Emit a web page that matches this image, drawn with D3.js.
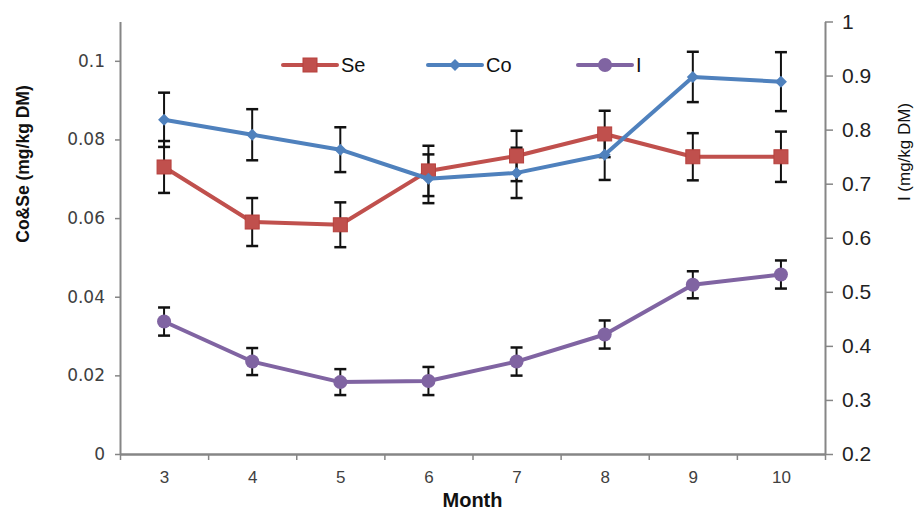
<!DOCTYPE html>
<html>
<head>
<meta charset="utf-8">
<script src="https://cdn.jsdelivr.net/npm/d3@7"></script>
<style>
  body { margin: 0; background: #fff; }
</style>
</head>
<body>
<div id="chart"></div>
<script>
// Data
const months = [3, 4, 5, 6, 7, 8, 9, 10];
const seValues = [0.0730, 0.0590, 0.0583, 0.0720, 0.0758, 0.0814, 0.0756, 0.0756];
const seErrors = [0.0066, 0.0061, 0.0057, 0.0064, 0.0064, 0.0059, 0.0060, 0.0064];
const coValues = [0.0850, 0.0812, 0.0774, 0.0700, 0.0715, 0.0761, 0.0959, 0.0947];
const coErrors = [0.0069, 0.0065, 0.0057, 0.0062, 0.0064, 0.0064, 0.0064, 0.0075];
const iValues = [0.445, 0.371, 0.333, 0.335, 0.371, 0.421, 0.513, 0.532];
const iErrors = [0.026, 0.025, 0.024, 0.026, 0.026, 0.026, 0.025, 0.026];
const leftTicks = [0, 0.02, 0.04, 0.06, 0.08, 0.1];
const rightTicks = [0.2, 0.3, 0.4, 0.5, 0.6, 0.7, 0.8, 0.9, 1];

const width = 917, height = 511;
const margin = { top: 21.5, right: 92, bottom: 57, left: 120 };
const innerW = width - margin.left - margin.right;
const innerH = height - margin.top - margin.bottom;

const svg = d3.select("#chart")
  .append("svg")
  .attr("width", width)
  .attr("height", height);

const g = svg.append("g")
  .attr("transform", `translate(${margin.left},${margin.top})`);

// Scales
let x = d3.scaleLinear()
  .domain([2.5, 10.5])
  .range([0, innerW]);

let yLeft = d3.scaleLinear()
  .domain([0, 0.11])
  .range([innerH, 0]);

let yRight = d3.scaleLinear()
  .domain([0.2, 1])
  .range([innerH, 0]);

const axisColor = "#868686";

// X axis: boundary ticks
let xTicks = g.append("g")
  .attr("transform", `translate(0,${innerH})`)
  .call(d3.axisBottom(x)
    .tickValues(d3.range(2.5, 11, 1))
    .tickSize(6)
    .tickSizeOuter(0)
    .tickFormat(""));
xTicks.select(".domain").attr("stroke", axisColor).attr("stroke-width", 2.5);
xTicks.selectAll(".tick line").attr("stroke", axisColor).attr("stroke-width", 1.5);

// X axis labels
let xLabels = g.append("g")
  .attr("transform", `translate(0,${innerH})`)
  .call(d3.axisBottom(x).tickValues(months).tickSize(0).tickPadding(17));
xLabels.select(".domain").remove();
xLabels.selectAll("text")
  .style("font-family", "Liberation Sans, Arial, sans-serif")
  .style("font-size", "17px")
  .attr("fill", "#404040");

// Left axis
let leftAxis = g.append("g")
  .call(d3.axisLeft(yLeft)
    .tickValues(leftTicks)
    .tickSize(5)
    .tickSizeOuter(0)
    .tickPadding(10)
    .tickFormat(d => d === 0 ? "0" : String(+d.toFixed(2))));
leftAxis.select(".domain").attr("stroke", axisColor).attr("stroke-width", 2);
leftAxis.selectAll(".tick line").attr("stroke", axisColor).attr("stroke-width", 1.5);
leftAxis.selectAll("text")
  .style("font-family", "DejaVu Sans, Verdana, sans-serif")
  .style("font-size", "17px")
  .attr("fill", "#404040");

// Right axis
let rightAxis = g.append("g")
  .attr("transform", `translate(${innerW},0)`)
  .call(d3.axisRight(yRight)
    .tickValues(rightTicks)
    .tickSize(8)
    .tickSizeOuter(0)
    .tickPadding(9)
    .tickFormat(d => d === 1 ? "1" : d.toFixed(1)));
rightAxis.select(".domain").attr("stroke", axisColor).attr("stroke-width", 2);
rightAxis.selectAll(".tick line").attr("stroke", axisColor).attr("stroke-width", 1.5);
rightAxis.selectAll("text")
  .style("font-family", "Liberation Sans, Arial, sans-serif")
  .style("font-size", "21px")
  .attr("fill", "#222");

// Series definitions
const series = [
  { name: "Se", values: seValues, errors: seErrors, y: yLeft, color: "#C0504D", shape: "square" },
  { name: "Co", values: coValues, errors: coErrors, y: yLeft, color: "#4F81BD", shape: "diamond" },
  { name: "I", values: iValues, errors: iErrors, y: yRight, color: "#8064A2", shape: "circle" }
];

function drawMarker(sel, shape, color) {
  if (shape === "square") {
    sel.append("rect")
      .attr("x", -7).attr("y", -7)
      .attr("width", 14).attr("height", 14)
      .attr("fill", color)
      .attr("stroke", "#B7403D").attr("stroke-width", 1);
  } else if (shape === "diamond") {
    sel.append("path")
      .attr("d", "M0,-6L6,0L0,6L-6,0Z")
      .attr("fill", color);
  } else {
    sel.append("circle")
      .attr("r", 7)
      .attr("fill", color);
  }
}

// Error bars first (drawn under lines)
series.forEach(s => {
  let eg = g.append("g").attr("class", "err-" + s.name);
  months.forEach((m, i) => {
    let cx = x(m);
    let y1 = s.y(s.values[i] + s.errors[i]);
    let y2 = s.y(s.values[i] - s.errors[i]);
    eg.append("line")
      .attr("x1", cx).attr("x2", cx)
      .attr("y1", y1).attr("y2", y2)
      .attr("stroke", "#111").attr("stroke-width", 2);
    [y1, y2].forEach(yy => {
      eg.append("line")
        .attr("x1", cx - 6).attr("x2", cx + 6)
        .attr("y1", yy).attr("y2", yy)
        .attr("stroke", "#111").attr("stroke-width", 2.5);
    });
  });
});

// Lines and markers
series.forEach(s => {
  let line = d3.line()
    .x((d, i) => x(months[i]))
    .y(d => s.y(d));

  g.append("path")
    .datum(s.values)
    .attr("fill", "none")
    .attr("stroke", s.color)
    .attr("stroke-width", 4)
    .attr("stroke-linejoin", "round")
    .attr("d", line);

  g.selectAll(".mk-" + s.name)
    .data(s.values)
    .enter()
    .append("g")
    .attr("class", "mk-" + s.name)
    .attr("transform", (d, i) => `translate(${x(months[i])},${s.y(d)})`)
    .each(function() { drawMarker(d3.select(this), s.shape, s.color); });
});

// Legend
const legendItems = [
  { s: series[0], x: 283 },
  { s: series[1], x: 428 },
  { s: series[2], x: 578 }
];
let legend = svg.append("g").attr("transform", "translate(0,65)");
legendItems.forEach(item => {
  let lg = legend.append("g").attr("transform", `translate(${item.x},0)`);
  lg.append("line")
    .attr("x1", 0).attr("x2", 54)
    .attr("stroke", item.s.color)
    .attr("stroke-width", 4)
    .attr("stroke-linecap", "round");
  let mk = lg.append("g").attr("transform", "translate(27,0)");
  drawMarker(mk, item.s.shape, item.s.color);
  lg.append("text")
    .attr("x", 58)
    .attr("y", 7)
    .style("font-family", "Liberation Sans, Arial, sans-serif")
    .style("font-size", "20px")
    .attr("fill", "#111")
    .text(item.s.name);
});

// Axis titles
svg.append("text")
  .attr("x", margin.left + innerW / 2)
  .attr("y", 507)
  .attr("text-anchor", "middle")
  .style("font-family", "Liberation Sans, Arial, sans-serif")
  .style("font-size", "20px")
  .style("font-weight", "bold")
  .attr("fill", "#111")
  .text("Month");

svg.append("text")
  .attr("transform", "translate(29,164) rotate(-90)")
  .attr("text-anchor", "middle")
  .style("font-family", "Liberation Sans, Arial, sans-serif")
  .style("font-size", "17.5px")
  .style("font-weight", "bold")
  .attr("fill", "#111")
  .text("Co&Se (mg/kg DM)");

svg.append("text")
  .attr("transform", "translate(910,152) rotate(-90)")
  .attr("text-anchor", "middle")
  .style("font-family", "Liberation Sans, Arial, sans-serif")
  .style("font-size", "17px")
  .attr("fill", "#111")
  .text("I  (mg/kg DM)");
</script>
</body>
</html>
